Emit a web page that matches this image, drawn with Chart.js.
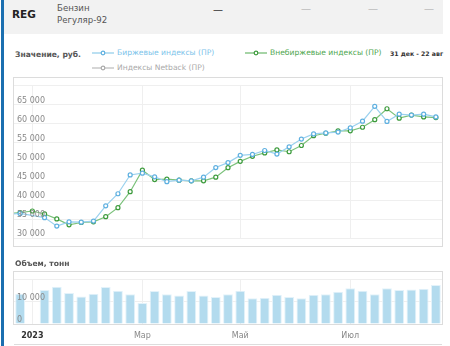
<!DOCTYPE html>
<html>
<head>
<meta charset="utf-8">
<script src="https://cdn.jsdelivr.net/npm/chart.js@4.4.1/dist/chart.umd.min.js"></script>
<style>
  body { margin: 0; width: 450px; height: 346px; overflow: hidden; background: #fff;
         font-family: "DejaVu Sans", Verdana, sans-serif; position: relative; }
  .abs { position: absolute; white-space: nowrap; }
  .side { left: 1px; top: 0; width: 3px; height: 346px; background: #1b6fb0; }
  .head { left: 4px; top: 0; width: 439px; height: 34px; background: #f2f2f2; }
  .reg { left: 12px; top: 8px; font-size: 10.5px; font-weight: bold; color: #222; }
  .name { left: 57px; font-size: 8.6px; color: #555; }
  .dash { top: 3px; font-size: 10px; color: #bbb; }
  .lbl { font-size: 7.6px; font-weight: bold; color: #555; }
  .leg { font-size: 7.6px; display: flex; align-items: center; }
  .leg svg { margin-right: 3px; }
  .box { border: 1px solid #dcdcdc; pointer-events: none; box-sizing: border-box; }
</style>
</head>
<body>
<div class="abs side"></div>
<div class="abs head"></div>
<div class="abs reg">REG</div>
<div class="abs name" style="top:3px">Бензин</div>
<div class="abs name" style="top:15px">Регуляр-92</div>
<div class="abs dash" style="left:213px;top:4px;color:#333">—</div>
<div class="abs dash" style="left:301px">—</div>
<div class="abs dash" style="left:368px">—</div>
<div class="abs dash" style="left:424px">—</div>

<div class="abs lbl" style="left:15px;top:50px">Значение, руб.</div>
<div class="abs leg" style="left:92px;top:48px;color:#7cc3ea">
  <svg width="22" height="8"><line x1="0" y1="4" x2="22" y2="4" stroke="#8ecbea" stroke-width="1.2"/><circle cx="11" cy="4" r="1.8" fill="#fff" stroke="#5fb0e0" stroke-width="1.2"/></svg>Биржевые индексы (ПР)</div>
<div class="abs leg" style="left:245px;top:48px;color:#4ea64e">
  <svg width="22" height="8"><line x1="0" y1="4" x2="22" y2="4" stroke="#6bb86b" stroke-width="1.2"/><circle cx="11" cy="4" r="1.8" fill="#fff" stroke="#3d9b3d" stroke-width="1.2"/></svg>Внебиржевые индексы (ПР)</div>
<div class="abs lbl" style="left:390px;top:50px;font-size:6.2px;color:#333">31 дек - 22 авг</div>
<div class="abs leg" style="left:92px;top:63px;color:#aaa">
  <svg width="22" height="8"><line x1="0" y1="4" x2="22" y2="4" stroke="#bbb" stroke-width="1.2"/><circle cx="11" cy="4" r="1.8" fill="#fff" stroke="#aaa" stroke-width="1.2"/></svg>Индексы Netback (ПР)</div>

<canvas id="prices" class="abs" style="left:14px;top:78px"></canvas>
<div class="abs box" style="left:13px;top:77px;width:430px;height:170px"></div>

<div class="abs lbl" style="left:15px;top:259px">Объем, тонн</div>
<canvas id="volume" class="abs" style="left:14px;top:272px"></canvas>
<div class="abs box" style="left:13px;top:271px;width:430px;height:54px"></div>
<div class="abs" style="left:14px;top:344px;width:428px;height:1px;background:#ddd"></div>

<script>
// weekly points; first value is the week before the visible range (clipped)
const exchange = [36300, 36500, null, 35400, 33170, 34290, 34200, 34500, 38500, 41670,
    46600, 47070, 46100, 44830, 45240, 45070, 46030, 48540, 49840, 51740,
    51980, 53020, 52070, 53980, 56020, 57380, 57620, 57860, 58980, 60710,
    64600, 60640, 62550, 62310, 62550, 61830];
const otc = [36500, 36700, 37140, 36360, 35070, 33500, 34120, 34290, 35640, 38020,
    42210, 47860, 45400, 45480, 45240, 45070, 45070, 46030, 48500, 50170,
    51500, 52380, 53170, 52690, 54330, 56900, 57550, 58170, 58170, 59120,
    61110, 63980, 61500, 62310, 61830, 61670];
const volume = [13700, null, 15400, 16900, 14000, 12400, 13700, 16700, 15100, 13500,
    9500, 14900, 13500, 12950, 14900, 12950, 12200, 13500, 15100, 11700,
    11900, 13200, 12200, 11700, 13200, 13500, 14600, 16150, 15100, 13500,
    16150, 15400, 15650, 15900, 17700];
const tickWeeks = [1, 10, 18, 27];
const tickLabels = ['2023', 'Мар', 'Май', 'Июл'];

const FONT = '"DejaVu Sans", Verdana, sans-serif';
const GRID = '#efefef';

const toPoints = (arr, shift) => arr.map((v, k) => ({x: k - shift, y: v}));

const xAxis = (showLabels) => ({
    type: 'linear',
    min: -0.5,
    max: 34.5,
    offset: false,
    afterBuildTicks: (s) => { s.ticks = tickWeeks.map((v) => ({value: v})); },
    afterFit: (s) => { s.height = showLabels ? 22 : 0; },
    grid: {color: GRID, drawTicks: false, offset: false},
    border: {display: false},
    ticks: {
        display: showLabels,
        padding: 7,
        color: (c) => c.index === 0 ? '#333' : '#888',
        font: (c) => ({family: FONT, size: 8, weight: c.index === 0 ? 'bold' : 'normal'}),
        callback: (v, i) => tickLabels[i],
    },
});

const yAxis = (min, max, step) => ({
    min: min,
    max: max,
    afterFit: (s) => { s.width = 0; },
    grid: {color: GRID, drawTicks: false},
    border: {display: false},
    ticks: {
        stepSize: step,
        mirror: true,
        padding: 3,
        labelOffset: -4,
        z: 1,
        color: '#888',
        font: {family: FONT, size: 8},
        callback: (v) => v >= max ? '' : v.toLocaleString('ru-RU').replace(/\s/g, ' '),
    },
});

const base = {
    responsive: false,
    animation: false,
    layout: {padding: 0, autoPadding: false},
    plugins: {legend: {display: false}, tooltip: {enabled: false}},
};

const pc = document.getElementById('prices');
pc.width = 428; pc.height = 168;
new Chart(pc, {
    type: 'line',
    data: {
        datasets: [
            {
                data: toPoints(exchange, 1),
                borderColor: '#9ad1ee',
                borderWidth: 1.2,
                pointRadius: 2,
                pointBorderWidth: 1.2,
                pointBorderColor: '#5fb0e0',
                pointBackgroundColor: '#fff',
                spanGaps: true,
                tension: 0,
            },
            {
                data: toPoints(otc, 1),
                borderColor: '#7cc27c',
                borderWidth: 1.2,
                pointRadius: 2,
                pointBorderWidth: 1.2,
                pointBorderColor: '#3d9b3d',
                pointBackgroundColor: '#fff',
                tension: 0,
            },
        ],
    },
    options: Object.assign({}, base, {
        scales: {x: xAxis(false), y: yAxis(30000, 70000, 5000)},
    }),
});

const vc = document.getElementById('volume');
vc.width = 428; vc.height = 74;
new Chart(vc, {
    type: 'bar',
    data: {
        datasets: [{
            data: toPoints(volume, 0),
            backgroundColor: '#b3dbee',
            borderColor: '#e3f2fa',
            borderWidth: {top: 1, left: 1, right: 1, bottom: 0},
            categoryPercentage: 1,
            barPercentage: 0.8,
        }],
    },
    options: Object.assign({}, base, {
        scales: {x: xAxis(true), y: yAxis(0, 20000, 10000)},
    }),
});
</script>
</body>
</html>
